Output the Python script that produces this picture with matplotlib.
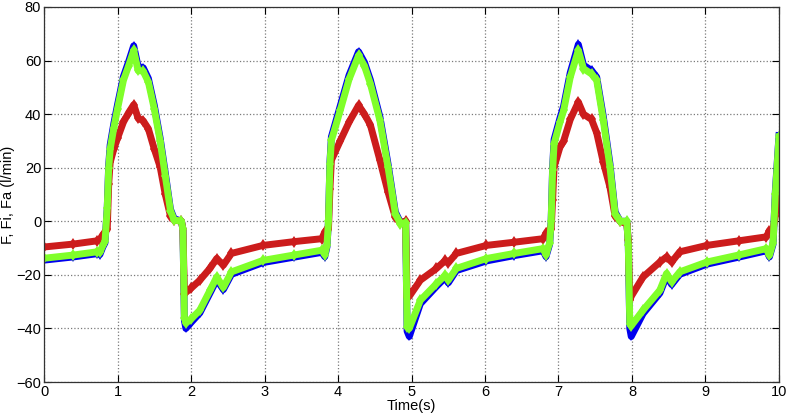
import matplotlib
matplotlib.use("Agg")
import matplotlib.pyplot as plt
import numpy as np

plt.rcParams['font.family'] = ['Liberation Sans', 'DejaVu Sans']

# key points (time in s, flows in l/min)
t = np.array([0.00, 0.40, 0.72, 0.76, 0.80, 0.83, 0.86, 0.88, 0.90, 0.95, 1.00, 1.08, 1.15, 1.22,
              1.28, 1.35, 1.42, 1.50, 1.58, 1.65, 1.72, 1.77, 1.87, 1.89, 1.91, 1.93, 2.00, 2.12,
              2.26, 2.35, 2.44, 2.55, 2.98, 3.40, 3.78, 3.82, 3.85, 3.87, 3.89, 3.91, 4.03, 4.15,
              4.28, 4.36, 4.44, 4.57, 4.68, 4.78, 4.85, 4.92, 4.94, 4.97, 5.12, 5.34, 5.46, 5.50,
              5.61, 6.02, 6.40, 6.79, 6.83, 6.88, 6.90, 6.92, 6.94, 7.02, 7.07, 7.16, 7.27, 7.34,
              7.45, 7.52, 7.61, 7.70, 7.77, 7.84, 7.93, 7.95, 7.97, 7.99, 8.15, 8.38, 8.47, 8.54,
              8.65, 9.02, 9.45, 9.83, 9.87, 9.92, 9.95, 10.0])

fa = np.array([-13.8, -12.6, -11.4, -11.6, -9.0, -7.5, 5.0, 20.0, 27.0, 35.0, 42.0, 52.6, 58.0, 63.8,
               56.3, 56.0, 52.0, 42.0, 30.0, 17.0, 4.0, 0.5, 0.0, -3.0, -36.0, -38.0, -36.5, -33.2,
               -25.7, -20.8, -24.7, -18.9, -14.6, -12.6, -10.8, -12.5, -9.0, 0.0, 21.5, 30.2, 41.4, 53.0,
               61.9, 58.0, 51.4, 37.7, 20.3, 2.9, -0.9, -0.5, -39.4, -40.0, -29.5, -23.3, -20.1, -22.0,
               -17.6, -13.9, -12.0, -10.2, -12.5, -8.0, 0.0, 19.0, 29.0, 37.0, 41.4, 53.8, 63.8, 57.0,
               55.0, 52.6, 37.7, 20.3, 2.9, 0.0, 0.0, -9.0, -38.2, -39.0, -33.2, -25.7, -19.5, -22.6,
               -18.9, -15.2, -12.6, -10.2, -12.7, -8.0, 10.0, 31.5])

f = np.array([-14.5, -13.3, -12.1, -12.4, -9.6, -8.0, 5.0, 21.0, 28.5, 36.5, 43.5, 54.0, 59.5, 65.5,
              57.8, 57.3, 53.3, 43.3, 31.0, 18.0, 4.5, 1.0, 0.0, -3.0, -37.0, -40.0, -37.8, -34.2,
              -26.7, -21.8, -25.5, -19.8, -15.4, -13.4, -11.6, -13.2, -9.5, 0.0, 22.0, 31.5, 43.0, 54.5,
              63.3, 59.3, 52.8, 39.0, 21.5, 3.5, -0.5, 0.0, -41.0, -43.0, -30.8, -24.3, -21.0, -23.0,
              -18.4, -14.8, -12.8, -11.0, -13.2, -8.5, 0.0, 20.0, 30.5, 38.5, 43.0, 55.5, 66.0, 58.3,
              56.3, 53.8, 39.0, 21.5, 3.5, 0.0, 0.0, -9.0, -40.0, -43.0, -34.5, -26.8, -20.5, -23.6,
              -19.8, -16.0, -13.4, -11.0, -13.3, -8.5, 11.0, 32.0])

fi = np.array([-9.6, -8.5, -7.3, -6.8, -5.0, -4.0, -3.0, 14.0, 22.0, 27.0, 31.0, 37.0, 40.5, 43.5,
               38.5, 37.5, 34.5, 27.0, 20.3, 10.0, 2.0, 0.5, 0.0, -3.0, -27.0, -26.5, -25.0, -22.0,
               -17.5, -13.9, -16.4, -12.0, -9.0, -7.6, -6.5, -4.0, -3.0, -3.0, 12.0, 22.8, 30.0, 37.0,
               43.3, 40.0, 36.0, 22.8, 11.0, 1.5, -0.5, 0.0, -28.2, -28.0, -22.0, -17.6, -14.6, -15.5,
               -12.0, -9.0, -7.8, -6.5, -4.5, -3.0, -3.0, 8.0, 20.3, 27.7, 30.0, 38.0, 44.5, 40.0,
               38.0, 33.0, 22.0, 12.8, 2.0, 0.0, -1.0, -7.0, -29.5, -28.0, -20.8, -15.2, -13.3, -15.2,
               -11.4, -9.0, -7.3, -5.8, -3.5, -3.0, 2.0, 21.5])

fig = plt.figure(figsize=(7.89, 4.19), dpi=100)
ax = fig.add_axes([0.0558, 0.0883, 0.9315, 0.895])

ax.plot(t, f, '-d', color='#0000ee', lw=5, ms=5.5, mew=0)
ax.plot(t, fi, '-d', color='#cc1c1c', lw=5, ms=6, mew=0)
ax.plot(t, fa, '-d', color='#80ff2a', lw=5, ms=6, mew=0)

ax.set_xlim(0, 10)
ax.set_ylim(-60, 80)
ax.set_xticks(np.arange(0, 11, 1))
ax.set_yticks(np.arange(-60, 81, 20))
ax.grid(True, linestyle=':', color='#7a7a7a', linewidth=0.9)
ax.tick_params(direction='in', top=True, right=True, length=5, labelsize=10.5, width=0.8, pad=2)
for s in ax.spines.values():
    s.set_linewidth(0.9)
    s.set_color('#333333')

ax.set_xlabel('Time(s)', fontsize=10.5, labelpad=0)
ax.set_ylabel('F, Fi, Fa (l/min)', fontsize=10.5, labelpad=1)

fig.savefig('out.png', dpi=100)
